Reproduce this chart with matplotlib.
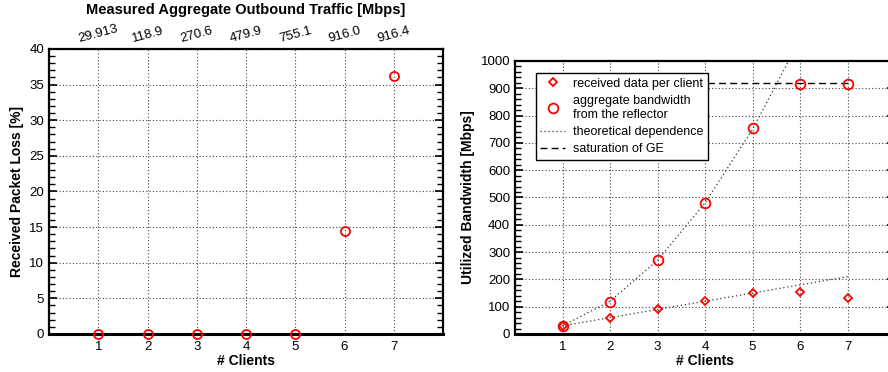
import matplotlib
matplotlib.use("Agg")
import matplotlib.pyplot as plt
from matplotlib.ticker import MultipleLocator

plt.rcParams['font.family'] = ['Liberation Sans', 'DejaVu Sans']

# Measurements
clients = [1, 2, 3, 4, 5, 6, 7]
packet_loss = [0.0, 0.0, 0.0, 0.0, 0.0, 14.4, 36.2]
outbound_labels = ["29.913", "118.9", "270.6", "479.9", "755.1", "916.0", "916.4"]
aggregate_bw = [29.913, 118.9, 270.6, 479.9, 755.1, 916.0, 916.4]
per_client_bw = [30, 59, 90, 120, 150, 153, 131]

# Theoretical dependence (linear per client, quadratic aggregate)
theory_clients = [1, 2, 3, 4, 5, 6]
theory_aggregate = [30, 120, 270, 480, 750, 1080]
theory_per_client = [30, 60, 90, 120, 150, 180, 210]

# Gigabit Ethernet saturation level
ge_clients = [1, 7]
ge_level = [920, 920]

RED = "#ff0000"
GRID = dict(color="#444444", linestyle=(0, (1, 2)), linewidth=0.8)

fig = plt.figure(figsize=(8.88, 3.72), dpi=100)


def style_axes(ax, minor):
    for s in ax.spines.values():
        s.set_linewidth(1.6)
    ax.spines["bottom"].set_linewidth(2.2)
    ax.xaxis.set_major_locator(MultipleLocator(1))
    ax.yaxis.set_minor_locator(MultipleLocator(minor))
    ax.tick_params(axis="both", which="both", direction="in", labelsize=9.5)
    ax.tick_params(axis="x", which="major", length=0, pad=5)
    ax.tick_params(axis="y", which="major", length=6, width=1.2, right=True)
    ax.tick_params(axis="y", which="minor", length=4, width=1.0, right=True)
    ax.grid(True, which="major", **GRID)
    ax.set_xlabel("# Clients", fontsize=10, fontweight="bold", labelpad=1)


# Left: packet loss
ax1 = fig.add_axes([0.0552, 0.1022, 0.4437, 0.7661])
ax1.plot(clients, packet_loss, linestyle="none", marker="o", markersize=6.5,
         markerfacecolor="none", markeredgecolor=RED, markeredgewidth=1.3,
         clip_on=False, zorder=5)
ax1.set_xlim(0, 8)
ax1.set_ylim(0, 40)
ax1.yaxis.set_major_locator(MultipleLocator(5))
style_axes(ax1, 1)
ax1.set_xticks(clients)
ax1.set_xticklabels([str(c) for c in clients])
ax1.set_ylabel("Received Packet Loss [%]", fontsize=10, fontweight="bold", labelpad=4)

top = ax1.twiny()
top.set_xlim(ax1.get_xlim())
top.set_xticks(clients)
top.set_xticklabels(outbound_labels, rotation=15, fontsize=9.5)
top.tick_params(axis="x", length=0, pad=3)
top.set_xlabel("Measured Aggregate Outbound Traffic [Mbps]", fontsize=10.5,
               fontweight="bold", labelpad=6)
for s in top.spines.values():
    s.set_visible(False)

# Right: utilized bandwidth
ax2 = fig.add_axes([0.58, 0.1022, 0.428, 0.7339])
ax2.plot(theory_clients, theory_aggregate, color="#333333",
         linestyle=(0, (1, 2.2)), linewidth=0.9, zorder=3)
ax2.plot(clients, theory_per_client, color="#333333",
         linestyle=(0, (1, 2.2)), linewidth=0.9, zorder=3)
ax2.plot(ge_clients, ge_level, color="black", linestyle=(0, (5, 3)),
         linewidth=1.0, zorder=3)
ax2.plot(clients, per_client_bw, linestyle="none", marker="D", markersize=4.5,
         markerfacecolor="none", markeredgecolor=RED, markeredgewidth=1.3, zorder=5)
ax2.plot(clients, aggregate_bw, linestyle="none", marker="o", markersize=7,
         markerfacecolor="none", markeredgecolor=RED, markeredgewidth=1.3, zorder=5)
ax2.set_xlim(0, 8)
ax2.set_ylim(0, 1000)
ax2.yaxis.set_major_locator(MultipleLocator(100))
style_axes(ax2, 20)
ax2.set_xticks(clients)
ax2.set_xticklabels([str(c) for c in clients])
ax2.set_ylabel("Utilized Bandwidth [Mbps]", fontsize=10, fontweight="bold", labelpad=4)

h_diamond, = ax2.plot([], [], linestyle="none", marker="D", markersize=4.5,
                      markerfacecolor="none", markeredgecolor=RED, markeredgewidth=1.3)
h_circle, = ax2.plot([], [], linestyle="none", marker="o", markersize=7,
                     markerfacecolor="none", markeredgecolor=RED, markeredgewidth=1.3)
h_theory, = ax2.plot([], [], color="#333333", linestyle=(0, (1, 2.2)), linewidth=0.9)
h_ge, = ax2.plot([], [], color="black", linestyle=(0, (5, 3)), linewidth=1.0)
leg = ax2.legend([h_diamond, h_circle, h_theory, h_ge],
                 ["received data per client", "aggregate bandwidth\nfrom the reflector",
                  "theoretical dependence", "saturation of GE"],
                 loc="upper left", bbox_to_anchor=(0.055, 0.955), fontsize=9,
                 frameon=True, fancybox=False, framealpha=1, edgecolor="black",
                 handlelength=2.0, handletextpad=0.6, borderpad=0.35,
                 labelspacing=0.42, borderaxespad=0)
leg.get_frame().set_linewidth(1.0)
leg.set_zorder(10)

fig.savefig("out.png", dpi=100)
